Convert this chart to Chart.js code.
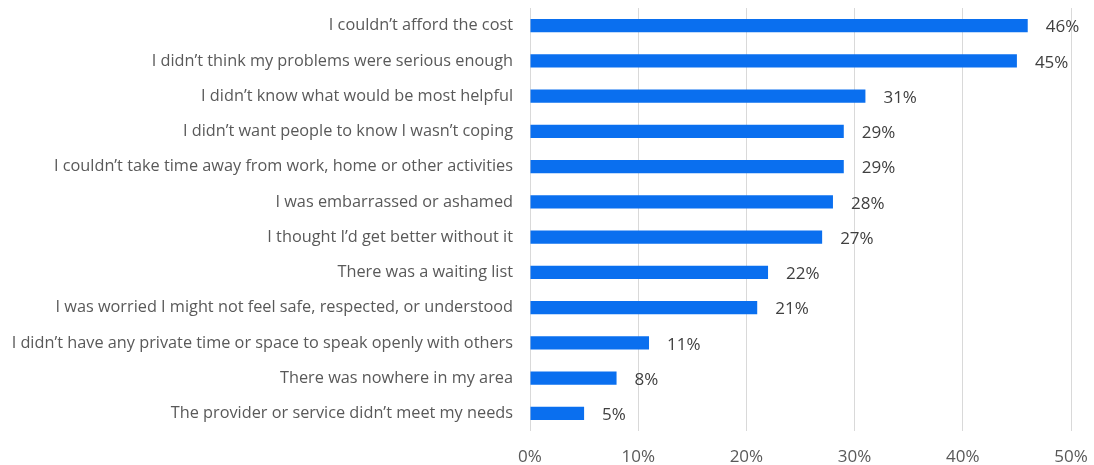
<!DOCTYPE html>
<html><head><meta charset="utf-8">
<script src="https://cdn.jsdelivr.net/npm/chart.js@4/dist/chart.umd.min.js"></script>
<style>html,body{margin:0;padding:0;background:#fff}#wrap{width:1094px;height:465px}</style>
</head><body><div id="wrap"><canvas id="c" width="1094" height="465"></canvas></div>
<script>
const categories = [
  "I couldn\u2019t afford the cost",
  "I didn\u2019t think my problems were serious enough",
  "I didn\u2019t know what would be most helpful",
  "I didn\u2019t want people to know I wasn\u2019t coping",
  "I couldn\u2019t take time away from work, home or other activities",
  "I was embarrassed or ashamed",
  "I thought I\u2019d get better without it",
  "There was a waiting list",
  "I was worried I might not feel safe, respected, or understood",
  "I didn\u2019t have any private time or space to speak openly with others",
  "There was nowhere in my area",
  "The provider or service didn\u2019t meet my needs"
];
const values = [46, 45, 31, 29, 29, 28, 27, 22, 21, 11, 8, 5];
const xTicks = [0, 10, 20, 30, 40, 50];

const valueLabels = {
  id: 'valueLabels',
  afterDatasetsDraw(chart) {
    const ctx = chart.ctx;
    const meta = chart.getDatasetMeta(0);
    ctx.save();
    ctx.font = '17px "Open Sans", sans-serif';
    ctx.fillStyle = '#404040';
    ctx.textAlign = 'left';
    ctx.textBaseline = 'middle';
    meta.data.forEach((el, i) => {
      ctx.fillText(values[i] + '%', el.x + 18, el.y + 2);
    });
    ctx.restore();
  }
};

new Chart(document.getElementById('c'), {
  type: 'bar',
  data: {
    labels: categories,
    datasets: [{
      data: values,
      backgroundColor: '#0A6FEF',
      borderWidth: 0,
      barPercentage: 0.37,
      categoryPercentage: 1.0
    }]
  },
  options: {
    indexAxis: 'y',
    responsive: false,
    animation: false,
    devicePixelRatio: 1,
    layout: { padding: { top: 8, right: 23, bottom: 0, left: 0 } },
    plugins: { legend: { display: false }, tooltip: { enabled: false } },
    scales: {
      x: {
        min: 0, max: 50,
        afterBuildTicks(scale) { scale.ticks = xTicks.map(v => ({ value: v })); },
        afterFit(scale) { scale.height = 34; scale.paddingLeft = 0; scale.paddingRight = 0; },
        grid: { color: '#d9d9d9', lineWidth: 1, drawTicks: false },
        border: { display: false },
        ticks: {
          padding: 16,
          color: '#595959',
          font: { family: '"Open Sans", sans-serif', size: 17 },
          callback: (v) => v + '%'
        }
      },
      y: {
        afterFit(scale) { scale.width = 530; scale.paddingTop = 0; scale.paddingBottom = 0; },
        grid: { display: false, drawTicks: false },
        border: { display: false },
        ticks: {
          padding: 17,
          color: '#595959',
          font: { family: '"Open Sans", sans-serif', size: 16.3 }
        }
      }
    }
  },
  plugins: [valueLabels]
});
</script></body></html>
